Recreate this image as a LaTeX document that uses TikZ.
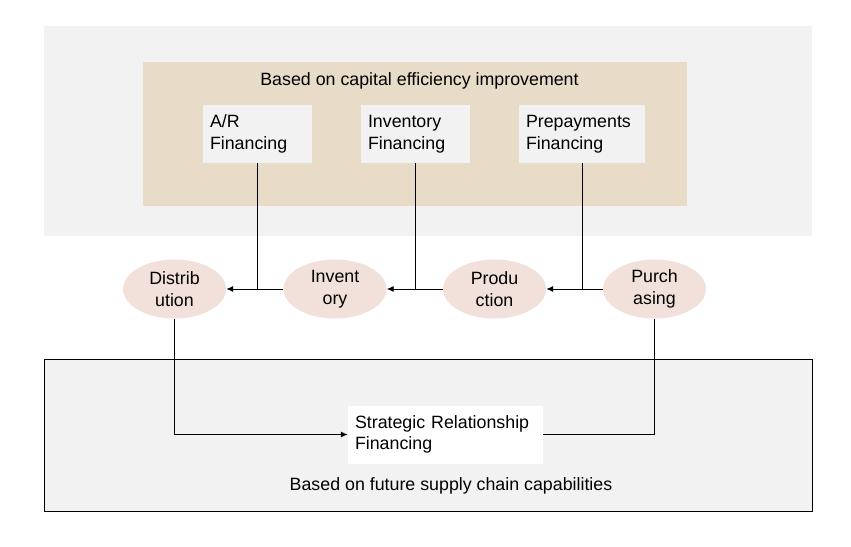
\documentclass[tikz,border=0pt]{standalone}
\usepackage{fontspec}
\setmainfont{Liberation Sans}
\usepackage{tikz}
\usetikzlibrary{arrows.meta,shapes.geometric}
\usepackage{xcolor}
\definecolor{scgray}{RGB}{242,242,242}
\definecolor{scbeige}{RGB}{232,220,201}
\definecolor{scpink}{RGB}{242,225,218}
\tikzstyle{panel} = [rectangle, inner sep=0pt, fill=scgray]
\tikzstyle{finbox} = [rectangle, inner xsep=7pt, inner ysep=0pt, align=left, fill=scgray, minimum height=58pt]
\tikzstyle{stage} = [ellipse, fill=scpink, minimum width=103pt, minimum height=59pt, inner sep=0pt, align=center]
\tikzstyle{link} = [line width=1pt]
\tikzstyle{arrow} = [line width=1pt,-{Latex[length=7pt,width=6pt]}]

\begin{document}
\begin{tikzpicture}[x=1pt,y=-1pt,font=\fontsize{17.8}{21.5}\selectfont]
\useasboundingbox (0,0) rectangle (851,546);
% capital efficiency part
\node[panel, minimum width=768pt, minimum height=210pt] (capband) at (428,131) {};
\node[panel, fill=scbeige, minimum width=544pt, minimum height=144pt] (cappanel) at (415,134) {};
\node (captitle) at (419.5,81) {Based on capital efficiency improvement};
\node[finbox, text width=95pt] (arfin) at (257.5,134) {A/R\\Financing};
\node[finbox, text width=94.5pt] (invfin) at (415.25,134) {Inventory\\Financing};
\node[finbox, text width=112pt] (prefin) at (582,134) {Prepayments\\Financing};

% supply chain stages
\node[stage] (dist) at (174.5,289) {Distrib\\ution};
\node[stage] (inv) at (335,289) {Invent\\ory};
\node[stage] (prod) at (494.5,289) {Produ\\ction};
\node[stage] (purch) at (654.5,289) {Purch\\asing};

% future capabilities part
\node[panel, draw=black, line width=1pt, minimum width=768pt, minimum height=152pt] (futbox) at (428,435) {};
\node[finbox, fill=white, text width=181pt] (srfin) at (445.5,434.5) {Strategic Relationship\\Financing};
\node (futtitle) at (451,486) {Based on future supply chain capabilities};

\draw[link] (arfin.south) -- (arfin.south |- dist.east);
\draw[arrow] (inv.west) -- (dist.east);
\draw[link] (invfin.south) -- (invfin.south |- inv.east);
\draw[arrow] (prod.west) -- (inv.east);
\draw[link] (prefin.south) -- (prefin.south |- prod.east);
\draw[arrow] (purch.west) -- (prod.east);
\draw[arrow] (dist.south) |- (srfin.west);
\draw[link] (purch.south) |- (srfin.east);
\end{tikzpicture}
\end{document}
